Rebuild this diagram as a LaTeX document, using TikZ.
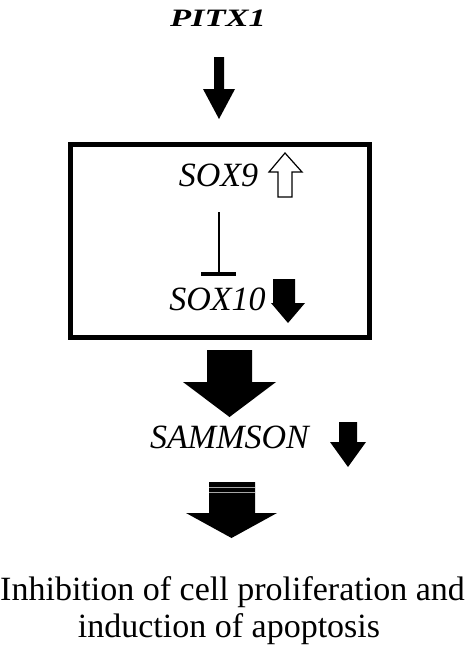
\documentclass[tikz,border=0pt]{standalone}
\usepackage{fontspec}
\setmainfont{Liberation Serif}
\begin{document}
\begin{tikzpicture}[x=1pt,y=-1pt,
  lbl/.style={inner sep=0pt,anchor=base,font=\fontsize{34}{38}\selectfont\itshape},
  blk/.style={fill=black,draw=none},
  hollow/.style={fill=white,draw=black,line width=1.2pt,line join=miter}]
\useasboundingbox (0,0) rectangle (473,653);
% PITX1
\node[inner sep=0pt,anchor=base] (pitx) at (218,26) {\scalebox{1.38}[1]{\fontsize{25}{28}\selectfont\bfseries\itshape PITX1}};
% arrow 1
\fill[blk] (214,57) -- (224,57) -- (224,89) -- (235,89) -- (219,119) -- (203,89) -- (214,89) -- cycle;
% box
\draw[line width=5pt] (70.5,144.5) rectangle (369.5,337.5);
\node[lbl] (sox9) at (218.5,186) {SOX9};
\draw[hollow] (285,153) -- (302,172) -- (292,172) -- (292,197) -- (278,197) -- (278,172) -- (269,172) -- cycle;
\coordinate (inhA) at (219,212);
\coordinate (inhB) at (219,274);
\draw[line width=2.5pt] (inhA) -- (inhB);
\draw[line width=4pt] (201,274) -- (236,274);
\node[lbl] (sox10) at (217.5,310) {SOX10};
\fill[blk] (273,279) -- (295,279) -- (295,303) -- (305,303) -- (288,323) -- (271,303) -- (273,303) -- cycle;
% arrow 2
\fill[blk] (207,350) -- (252,350) -- (252,382) -- (276,382) -- (229.5,417) -- (183,382) -- (207,382) -- cycle;
\node[lbl] (samm) at (229.5,448) {SAMMSON};
\fill[blk] (339,422) -- (357,422) -- (357,442) -- (366,442) -- (348,467) -- (330,442) -- (339,442) -- cycle;
% arrow 3
\fill[blk] (209,482) -- (255,482) -- (255,513) -- (277,513) -- (231.5,538) -- (186,513) -- (209,513) -- cycle;
\draw[gray!70,line width=0.3pt] (209,487) -- (255,487);
\draw[gray!70,line width=0.3pt] (209,492) -- (255,492);
% bottom text
\node[inner sep=0pt,anchor=base,font=\fontsize{34}{38}\selectfont] (res1) at (232.5,600) {Inhibition of cell proliferation and};
\node[inner sep=0pt,anchor=base,font=\fontsize{34}{38}\selectfont] (res2) at (229,637) {induction of apoptosis};
\end{tikzpicture}
\end{document}
